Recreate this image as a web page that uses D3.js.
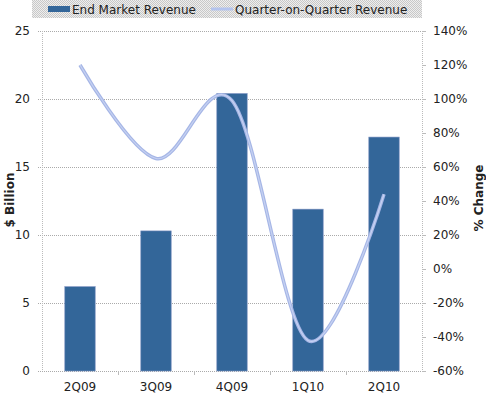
<!doctype html>
<html lang="en">
<head>
<meta charset="UTF-8" />
<title>End Market Revenue</title>
<script src="https://cdn.jsdelivr.net/npm/d3@7"></script>
<style>
  body { margin: 0; background: #fff; }
  text { font-family: "DejaVu Sans", Verdana, sans-serif; font-size: 12px; fill: #222; }
</style>
</head>
<body>
<svg id="chart" width="486" height="397"></svg>
<script>
  const quarters = ["2Q09", "3Q09", "4Q09", "1Q10", "2Q10"];
  const revenue = [6.2, 10.3, 20.4, 11.9, 17.2];
  const qoqChange = [120, 65, 99, -42, 44];
  const leftTicks = [0, 5, 10, 15, 20, 25];
  const rightTicks = [-60, -40, -20, 0, 20, 40, 60, 80, 100, 120, 140];

  const svg = d3.select("#chart");
  const plotL = 42, plotR = 422, plotT = 31, plotB = 371;

  const x = d3.scaleBand().domain(quarters).range([plotL, plotR]).paddingInner(0.6).paddingOuter(0.3);
  const xb = d3.scaleBand().domain(quarters).range([plotL, plotR]);
  const y = d3.scaleLinear().domain([0, 25]).range([plotB, plotT]);
  const y2 = d3.scaleLinear().domain([-60, 140]).range([plotB, plotT]);

  // hatched legend background
  const pat = svg.append("defs").append("pattern")
    .attr("id", "hatch").attr("width", 2).attr("height", 2).attr("patternUnits", "userSpaceOnUse");
  pat.append("rect").attr("width", 2).attr("height", 2).attr("fill", "#eeeeee");
  pat.append("rect").attr("width", 1).attr("height", 1).attr("fill", "#c8c8c8");
  pat.append("rect").attr("x", 1).attr("y", 1).attr("width", 1).attr("height", 1).attr("fill", "#c8c8c8");

  // gridlines
  svg.append("g").selectAll("line").data(leftTicks).join("line")
    .attr("x1", plotL - 4).attr("x2", plotR)
    .attr("y1", d => y(d) + 0.5).attr("y2", d => y(d) + 0.5)
    .attr("stroke", "#aaa").attr("stroke-dasharray", "1,1");

  // axis lines
  svg.append("line").attr("x1", plotL + 0.5).attr("x2", plotL + 0.5).attr("y1", plotT).attr("y2", plotB)
    .attr("stroke", "#bbb").attr("stroke-dasharray", "1,1");
  svg.append("line").attr("x1", plotR + 0.5).attr("x2", plotR + 0.5).attr("y1", plotT).attr("y2", plotB)
    .attr("stroke", "#bbb").attr("stroke-dasharray", "1,1");

  // right ticks
  svg.append("g").selectAll("line").data(rightTicks).join("line")
    .attr("x1", plotR).attr("x2", plotR + 4)
    .attr("y1", d => y2(d) + 0.5).attr("y2", d => y2(d) + 0.5)
    .attr("stroke", "#bbb");
  // bottom ticks at category boundaries
  svg.append("g").selectAll("line").data(quarters.slice(1)).join("line")
    .attr("x1", d => xb(d) + 0.5).attr("x2", d => xb(d) + 0.5)
    .attr("y1", plotB).attr("y2", plotB + 4)
    .attr("stroke", "#bbb");

  // bars
  svg.append("g").selectAll("rect").data(quarters).join("rect")
    .attr("x", d => x(d)).attr("width", x.bandwidth())
    .attr("y", (d, i) => y(revenue[i])).attr("height", (d, i) => plotB - y(revenue[i]))
    .attr("fill", "#336699").attr("stroke", "#7a8fc0").attr("stroke-width", 0.6);

  // smoothed line
  const line = d3.line()
    .x((d, i) => xb(quarters[i]) + xb.bandwidth() / 2)
    .y(d => y2(d))
    .curve(d3.curveCardinal.tension(0));
  svg.append("path").attr("d", line(qoqChange))
    .attr("fill", "none").attr("stroke", "#a6b6e6").attr("stroke-width", 3.5);
  svg.append("path").attr("d", line(qoqChange))
    .attr("fill", "none").attr("stroke", "#c6d2f2").attr("stroke-width", 1.2);

  // left tick labels
  svg.append("g").selectAll("text").data(leftTicks).join("text")
    .attr("x", 30).attr("y", d => y(d) + 4).attr("text-anchor", "end")
    .text(d => d);
  // right tick labels
  svg.append("g").selectAll("text").data(rightTicks).join("text")
    .attr("x", 433).attr("y", d => y2(d) + 4)
    .text(d => d + "%");
  // x labels
  svg.append("g").selectAll("text").data(quarters).join("text")
    .attr("x", d => xb(d) + xb.bandwidth() / 2).attr("y", 391).attr("text-anchor", "middle")
    .text(d => d);

  // axis titles
  svg.append("text").attr("transform", "translate(14,200) rotate(-90)")
    .attr("text-anchor", "middle").attr("font-weight", "bold").text("$ Billion");
  svg.append("text").attr("transform", "translate(483,198) rotate(-90)")
    .attr("text-anchor", "middle").attr("font-weight", "bold").text("% Change");

  // legend
  const lg = svg.append("g");
  lg.append("rect").attr("x", 32).attr("y", 0).attr("width", 390).attr("height", 18).attr("fill", "url(#hatch)");
  lg.append("rect").attr("x", 48).attr("y", 6).attr("width", 22).attr("height", 6).attr("fill", "#336699");
  lg.append("text").attr("x", 72).attr("y", 14).attr("font-size", 13).text("End Market Revenue");
  lg.append("line").attr("x1", 211).attr("x2", 233).attr("y1", 9).attr("y2", 9)
    .attr("stroke", "#b4c4ee").attr("stroke-width", 3);
  lg.append("text").attr("x", 235).attr("y", 14).attr("font-size", 13).text("Quarter-on-Quarter Revenue");
</script>
</body>
</html>
